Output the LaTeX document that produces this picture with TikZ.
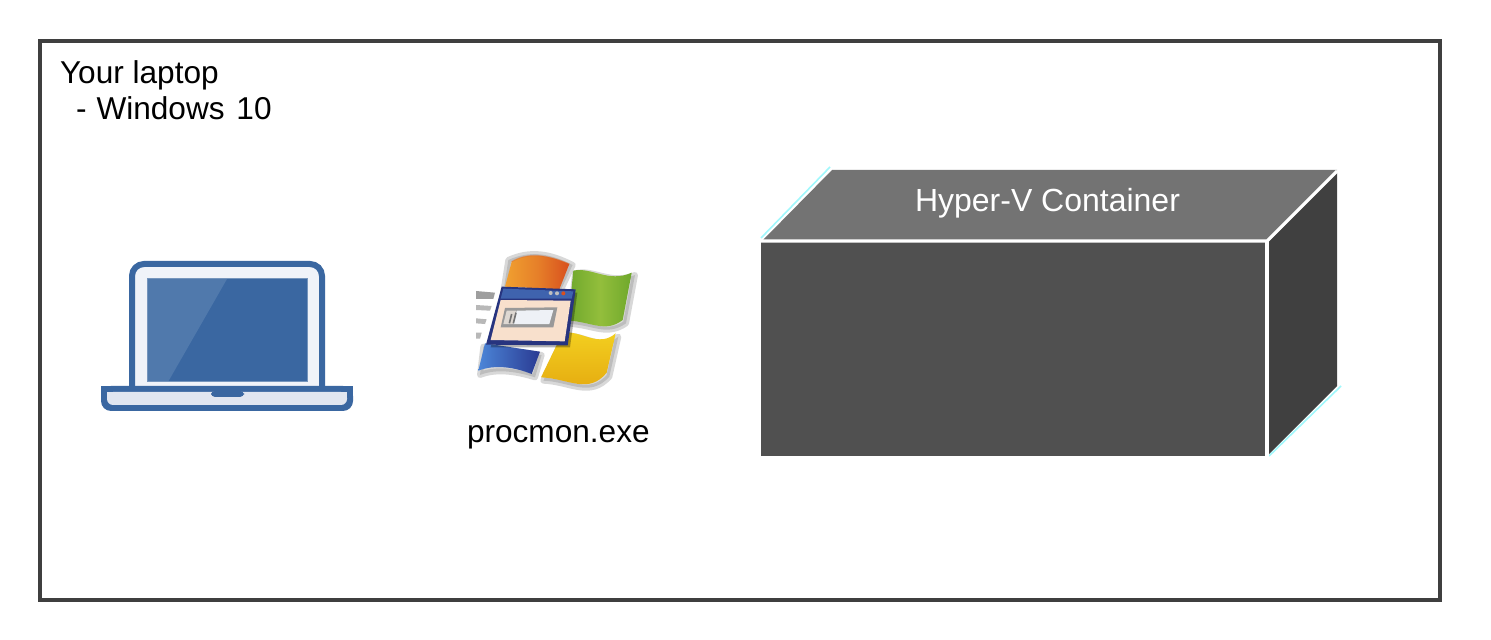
\documentclass[tikz,border=0pt]{standalone}
\usepackage{fontspec}
\setmainfont{Liberation Sans}
\usetikzlibrary{calc}
\definecolor{framegray}{HTML}{3F3F3F}
\definecolor{lapblue}{HTML}{3A67A1}
\definecolor{lapglare}{HTML}{5079AC}
\definecolor{lapbezel}{HTML}{F0F3F9}
\definecolor{lapbase}{HTML}{E1E6F0}
\definecolor{boxfront}{HTML}{505050}
\definecolor{boxtop}{HTML}{737373}
\definecolor{boxside}{HTML}{404040}
\definecolor{edgecyan}{HTML}{A0F8FC}
\definecolor{flagred}{HTML}{D8501E}
\definecolor{flagorange}{HTML}{F0A030}
\definecolor{flaggreen}{HTML}{6FA82C}
\definecolor{flaggreenl}{HTML}{93BE3C}
\definecolor{flagyellow}{HTML}{F3D020}
\definecolor{flagyellowd}{HTML}{E4A80F}
\definecolor{flagblue}{HTML}{4C86D8}
\definecolor{flagblued}{HTML}{2A3A92}
\definecolor{wintitle}{HTML}{3F63AE}
\definecolor{winedge}{HTML}{27347F}
\definecolor{winbody}{HTML}{F8E0CC}
\definecolor{winfield}{HTML}{EEF1F6}
\tikzset{
  lbl/.style={inner sep=0pt,outer sep=0pt,font=\fontsize{15.8}{18}\selectfont,text=black,anchor=base west},
  boxedge/.style={draw=white,line width=1.6pt,line join=round},
  flagshadow/.style={fill=black!50,draw=black!50,opacity=.3,line width=3pt,line join=round},
  flagpart/.style={draw=none,line join=round},
}
\begin{document}
\begin{tikzpicture}[x=0.5pt,y=-0.5pt]
\useasboundingbox (0,0) rectangle (1491,640);
\fill[white] (0,0) rectangle (1491,640);
% frame
\draw[framegray,line width=2pt] (40,41) rectangle (1440,600);
\node[lbl] (ltitle) at (60,84) {Your laptop};
\node[lbl] (lsub) at (76,120) {-\hspace{5pt}Windows\hspace{1.5pt} 10};
% laptop
\draw[lapblue,fill=lapbezel,line width=3pt,rounded corners=6pt] (132,388) -- (132,264) -- (322,264) -- (322,388);
\fill[lapblue] (147,279) rectangle (307,382);
\fill[lapglare] (147,279) -- (227,279) -- (168,382) -- (147,382) -- cycle;
\draw[lapblue!70!white,line width=.5pt] (147,279) rectangle (307,382);
\fill[lapblue,rounded corners=5pt] (101,386) -- (353,386) -- (353,411) -- (101,411) -- cycle;
\fill[lapblue] (101,386) rectangle (353,395);
\fill[lapbase,rounded corners=3pt] (107,392) -- (347,392) -- (347,405) -- (107,405) -- cycle;
\fill[lapbase] (107,392) rectangle (347,398);
\fill[lapblue,rounded corners=2pt] (211,391) -- (244,391) -- (244,397) -- (211,397) -- cycle;
% flag icon
\begin{scope}[shift={(460,240)},x=0.16667pt,y=-0.16667pt]
  % shadows
  \fill[flagshadow] (145,60) .. controls (210,30) and (270,40) .. (338,75) -- (300,155) -- (130,155) -- cycle;
  \fill[flagshadow] (345,100) .. controls (400,85) and (450,135) .. (525,105) -- (498,250) .. controls (440,290) and (400,255) .. (330,252) -- cycle;
  \fill[flagshadow] (312,288) .. controls (370,280) and (420,335) .. (475,290) -- (448,410) .. controls (390,475) and (330,425) .. (250,422) -- cycle;
  \fill[flagshadow] (70,320) -- (245,345) -- (225,412) .. controls (170,395) and (110,385) .. (60,405) -- cycle;
  % red
  \shade[flagpart,left color=flagorange,right color=flagred,middle color=flagorange!60!flagred]
    (135,140) -- (155,65) .. controls (205,35) and (265,45) .. (328,72) -- (298,148) -- cycle;
  \draw[flagred!70!flagorange,line width=.6pt,opacity=.4] (155,65) .. controls (205,35) and (265,45) .. (328,72);
  % green
  \shade[flagpart,left color=flaggreen,right color=flaggreen,middle color=flaggreenl]
    (340,92) .. controls (395,80) and (445,130) .. (515,98) -- (488,240) .. controls (435,280) and (395,245) .. (325,242) -- cycle;
  % yellow
  \shade[flagpart,top color=flagyellow,bottom color=flagyellowd]
    (308,278) .. controls (365,270) and (415,325) .. (467,280) -- (440,398) .. controls (385,465) and (325,415) .. (243,412) -- cycle;
  % blue
  \shade[flagpart,left color=flagblue,right color=flagblued]
    (75,310) -- (240,335) -- (215,402) .. controls (165,382) and (105,372) .. (55,392) -- cycle;
  % speed lines
  \fill[black!38] (48,153) -- (105,158) -- (100,177) -- (48,177) -- cycle;
  \fill[black!28] (48,195) -- (95,198) -- (90,212) -- (48,210) -- cycle;
  \fill[black!28] (48,235) -- (80,238) -- (75,252) -- (48,250) -- cycle;
  \fill[black!28] (48,278) -- (65,278) -- (60,296) -- (48,296) -- cycle;
  % window
  \fill[black,opacity=.3] (92,322) -- (135,150) -- (352,158) -- (330,322) -- cycle;
  \fill[winedge] (125,140) -- (347,148) -- (323,316) -- (78,314) -- cycle;
  \fill[wintitle] (130,146) -- (340,154) -- (335,176) -- (122,176) -- cycle;
  \fill[winbody] (122,180) -- (332,182) -- (314,304) -- (92,300) -- cycle;
  \fill[black!25] (272,159) circle (6) (291,160) circle (6);
  \fill[flagred] (310,160) circle (6);
  \fill[black!40] (135,204) -- (292,202) -- (280,262) -- (122,262) -- cycle;
  \fill[winfield] (170,212) -- (280,210) -- (268,252) -- (160,252) -- cycle;
  \fill[winbody!70!black!40] (140,212) -- (168,212) -- (158,252) -- (130,252) -- cycle;
  \draw[black!55,line width=.8pt] (155,222) -- (148,250) (168,218) -- (160,250);
\end{scope}
\node[lbl] (proc) at (467,442) {procmon.exe};
% container
\draw[edgecyan,line width=.8pt] (761,238) -- (830,167);
\draw[edgecyan,line width=.8pt] (1269,456) -- (1341,386);
\fill[boxfront] (761,242) rectangle (1266,456);
\fill[boxtop] (763,240) -- (832,170) -- (1337,170) -- (1267,240) -- cycle;
\fill[boxside] (1268,242) -- (1337,172) -- (1337,386) -- (1268,455) -- cycle;
\draw[boxedge] (761,241) -- (1267,241) -- (1337,171);
\draw[boxedge] (1267,241) -- (1267,456);
\node[lbl,text=white,font=\fontsize{16}{18}\selectfont] (hv) at (915,212) {Hyper-V Container};
\end{tikzpicture}
\end{document}
